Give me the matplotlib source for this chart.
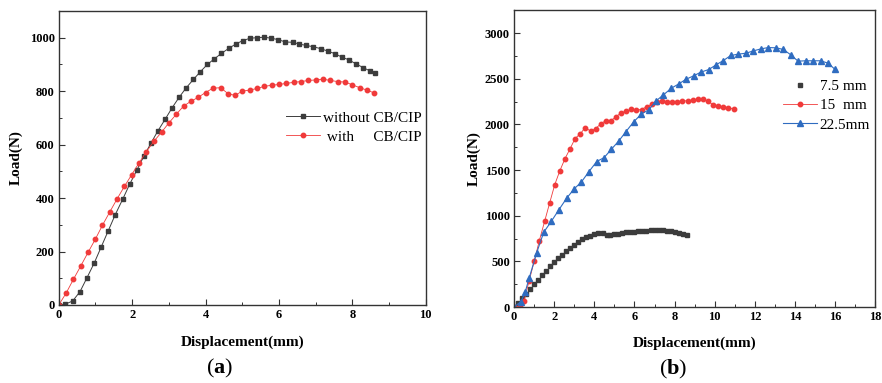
import numpy as np
import matplotlib
matplotlib.use("Agg")
import matplotlib.pyplot as plt
from matplotlib.ticker import MultipleLocator

plt.rcParams['font.family'] = ['Liberation Serif', 'DejaVu Serif']
plt.rcParams['mathtext.fontset'] = 'custom'
plt.rcParams['mathtext.rm'] = 'Liberation Serif'
plt.rcParams['mathtext.bf'] = 'Liberation Serif:bold'

# panel (a): without CB/CIP
x_without = [0, 0.16, 0.38, 0.58, 0.77, 0.97, 1.16, 1.35, 1.54, 1.74, 1.93, 2.13, 2.32, 2.51,
             2.70, 2.90, 3.09, 3.28, 3.47, 3.67, 3.86, 4.05, 4.24, 4.43, 4.63, 4.82, 5.01,
             5.21, 5.40, 5.60, 5.79, 5.98, 6.17, 6.37, 6.56, 6.75, 6.94, 7.14, 7.33, 7.53,
             7.72, 7.91, 8.10, 8.30, 8.49, 8.62]
y_without = [0, 2, 15, 50, 102, 158, 218, 278, 338, 395, 451, 505, 557, 605,
             651, 695, 738, 777, 812, 844, 873, 900, 921, 941, 960, 976, 989,
             998, 1000, 1002, 998, 993, 984, 983, 976, 971, 966, 959, 950, 940,
             927, 917, 902, 888, 875, 867]
# panel (a): with CB/CIP (same test as 7.5 mm in panel b)
x_with = [0, 0.2, 0.4, 0.6, 0.8, 1.0, 1.19, 1.39, 1.59, 1.79, 1.99, 2.19, 2.39, 2.59, 2.81,
          3.0, 3.2, 3.4, 3.6, 3.8, 4.0, 4.2, 4.41, 4.61, 4.8, 5.0, 5.2, 5.4, 5.6, 5.8,
          6.0, 6.2, 6.4, 6.6, 6.8, 7.0, 7.2, 7.4, 7.6, 7.8, 8.0, 8.2, 8.4, 8.6]
y_with = [0, 44, 96, 146, 197, 247, 298, 348, 397, 444, 488, 532, 574, 612, 648,
          681, 713, 744, 762, 777, 795, 811, 813, 791, 784, 800, 804, 810, 818, 822,
          825, 829, 833, 836, 840, 842, 845, 840, 836, 834, 824, 813, 804, 793]

# panel (b): 15 mm
x_15 = [0, 0.3, 0.5, 0.75, 1.01, 1.26, 1.53, 1.78, 2.03, 2.28, 2.54, 2.79, 3.04, 3.31, 3.55,
        3.82, 4.07, 4.32, 4.57, 4.83, 5.08, 5.33, 5.60, 5.85, 6.10, 6.36, 6.61, 6.86,
        7.13, 7.38, 7.62, 7.89, 8.14, 8.39, 8.65, 8.90, 9.15, 9.42, 9.67, 9.92, 10.18,
        10.43, 10.68, 10.95]
y_15 = [0, 15, 69, 285, 504, 727, 943, 1144, 1341, 1491, 1626, 1732, 1845, 1900, 1966,
        1925, 1955, 2006, 2042, 2042, 2083, 2127, 2145, 2167, 2159, 2163, 2196, 2221,
        2247, 2254, 2251, 2247, 2251, 2258, 2258, 2269, 2273, 2276, 2254, 2214, 2203,
        2192, 2185, 2167]
# panel (b): 22.5 mm
x_225 = [0, 0.35, 0.55, 0.76, 1.13, 1.48, 1.86, 2.24, 2.62, 2.99, 3.36, 3.72, 4.12, 4.49,
         4.85, 5.22, 5.58, 5.96, 6.35, 6.71, 7.08, 7.44, 7.84, 8.21, 8.57, 8.95, 9.30,
         9.70, 10.07, 10.43, 10.80, 11.18, 11.56, 11.93, 12.31, 12.67, 13.06, 13.42,
         13.79, 14.15, 14.53, 14.90, 15.27, 15.65, 15.98]
y_225 = [0, 60, 160, 321, 596, 819, 939, 1067, 1191, 1293, 1370, 1480, 1593, 1637,
         1728, 1819, 1922, 2028, 2115, 2159, 2258, 2323, 2397, 2444, 2495, 2532, 2572,
         2601, 2653, 2700, 2755, 2770, 2780, 2806, 2828, 2842, 2839, 2821,
         2762, 2693, 2697, 2697, 2697, 2671, 2605]

c_black = '#3c3c3c'
c_red = '#f03a3a'
c_blue = '#2f6cc0'

fig = plt.figure(figsize=(8.82, 3.83), dpi=100)
ax1 = fig.add_axes([0.0666, 0.2037, 0.4161, 0.7676])
ax2 = fig.add_axes([0.5828, 0.1984, 0.4096, 0.7747])


def style(ax):
    for s in ax.spines.values():
        s.set_color('#333333')
        s.set_linewidth(1.0)
    ax.tick_params(which='both', direction='in', top=False, right=False,
                   colors='#333333', labelsize=9)
    ax.tick_params(which='major', length=4, width=0.8, pad=3)
    ax.tick_params(which='minor', length=2.5, width=0.7)
    for lab in ax.get_xticklabels() + ax.get_yticklabels():
        lab.set_fontweight('bold')
        lab.set_color('black')
    ax.set_xlabel('Displacement(mm)', fontsize=11, fontweight='bold')
    ax.set_ylabel('Load(N)', fontsize=11, fontweight='bold')


# (a)
ax1.plot(x_without, y_without, color=c_black, lw=0.7, marker='s', ms=3,
         label='without CB/CIP')
ax1.plot(x_with, y_with, color=c_red, lw=0.6, marker='o', ms=3.2,
         label=' with     CB/CIP')
ax1.set_xlim(0, 10)
ax1.set_ylim(0, 1100)
ax1.xaxis.set_major_locator(MultipleLocator(2))
ax1.xaxis.set_minor_locator(MultipleLocator(1))
ax1.yaxis.set_major_locator(MultipleLocator(200))
ax1.yaxis.set_minor_locator(MultipleLocator(100))
style(ax1)
ax1.xaxis.set_label_coords(0.5, -0.105)
ax1.yaxis.set_label_coords(-0.097, 0.5)
ax1.legend(loc='upper left', bbox_to_anchor=(0.619, 0.66), frameon=False, fontsize=11,
           borderpad=0, borderaxespad=0, handlelength=2.2, handletextpad=0.2,
           labelspacing=0.36)

# (b)
ax2.plot(x_with, y_with, color=c_black, lw=0, marker='s', ms=3, label='7.5 mm')
ax2.plot(x_15, y_15, color=c_red, lw=0.6, marker='o', ms=3.2, label='15  mm')
ax2.plot(x_225, y_225, color=c_blue, lw=0.8, marker='^', ms=3.8, label='22.5mm')
ax2.set_xlim(0, 18)
ax2.set_ylim(0, 3250)
ax2.xaxis.set_major_locator(MultipleLocator(2))
ax2.xaxis.set_minor_locator(MultipleLocator(1))
ax2.yaxis.set_major_locator(MultipleLocator(500))
ax2.yaxis.set_minor_locator(MultipleLocator(250))
style(ax2)
ax2.xaxis.set_label_coords(0.5, -0.101)
ax2.yaxis.set_label_coords(-0.091, 0.5)
ax2.legend(loc='upper left', bbox_to_anchor=(0.745, 0.767), frameon=False, fontsize=11,
           borderpad=0, borderaxespad=0, handlelength=2.2, handletextpad=0.2,
           labelspacing=0.36)

fig.text(0.249, 0.039, r'($\mathbf{a}$)', fontsize=16, ha='center', va='center')
fig.text(0.763, 0.034, r'($\mathbf{b}$)', fontsize=16, ha='center', va='center')

fig.savefig('out.png', dpi=100)
